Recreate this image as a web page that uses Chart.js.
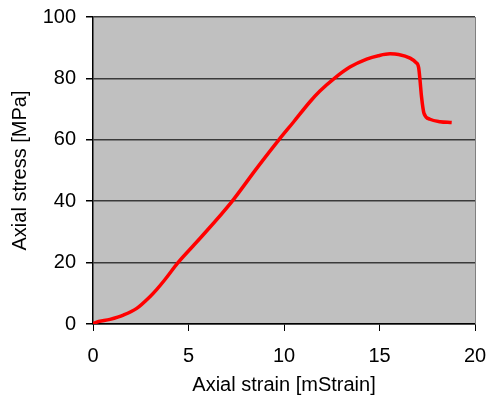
<!DOCTYPE html>
<html>
<head>
<meta charset="utf-8">
<script src="https://cdn.jsdelivr.net/npm/chart.js@4/dist/chart.umd.min.js"></script>
<style>
  html, body { margin: 0; padding: 0; background: #fff; }
  #wrap { width: 488px; height: 400px; }
</style>
</head>
<body>
<div id="wrap"><canvas id="stressChart"></canvas></div>
<script>
// strain [mStrain] and stress [MPa]
const strain = [0, 0.1, 0.89, 1.59, 2.29, 2.98, 3.33, 3.77, 4.45, 5.25, 5.69, 7.26, 8.57, 9.72, 10.5, 11.36, 11.88, 12.67, 13.45, 14.33, 14.94, 15.55, 16.0, 16.6, 16.9, 17.05, 17.12, 17.2, 17.33, 17.64, 18.17, 18.78];
const stress = [0, 0.4, 1.5, 2.9, 5.1, 8.9, 11.2, 14.5, 20.0, 25.5, 28.5, 39.8, 50.7, 59.9, 65.8, 72.4, 75.9, 80.2, 83.7, 86.3, 87.4, 88.0, 87.8, 86.6, 85.2, 83.5, 79.5, 74.0, 68.6, 66.7, 65.9, 65.6];
const xTicks = [0, 5, 10, 15, 20];
const yTicks = [0, 20, 40, 60, 80, 100];

const points = strain.map((s, i) => ({ x: s, y: stress[i] }));
const FONT = 'Liberation Sans, Arial, sans-serif';

const plotBg = {
	id: 'plotBg',
	beforeDraw(chart) {
		const { ctx, chartArea: a } = chart;
		ctx.save();
		ctx.fillStyle = '#c0c0c0';
		ctx.fillRect(a.left, a.top, a.right - a.left, a.bottom - a.top);
		ctx.restore();
	},
	afterDatasetsDraw(chart) {
		const { ctx, chartArea: a } = chart;
		ctx.save();
		ctx.strokeStyle = '#808080';
		ctx.lineWidth = 1;
		ctx.beginPath();
		ctx.moveTo(a.right + 0.5, a.top);
		ctx.lineTo(a.right + 0.5, a.bottom);
		ctx.stroke();
		ctx.restore();
	}
};

new Chart(document.getElementById('stressChart'), {
	type: 'scatter',
	data: {
		datasets: [
			{
				data: points,
				showLine: true,
				borderColor: '#ff0000',
				borderWidth: 3.5,
				pointRadius: 0,
				cubicInterpolationMode: 'monotone',
				fill: false,
			},
		],
	},
	options: {
		responsive: true,
		maintainAspectRatio: false,
		animation: false,
		layout: { padding: { top: 17, right: 13, left: 0, bottom: 0 } },
		plugins: {
			legend: { display: false },
			tooltip: { enabled: false },
		},
		scales: {
			x: {
				type: 'linear',
				min: 0,
				max: 20,
				afterBuildTicks: (axis) => {
					axis.ticks = xTicks.map((v) => ({ value: v }));
				},
				afterFit: (axis) => {
					axis.height = 76;
					axis.paddingLeft = 0;
					axis.paddingRight = 0;
				},
				grid: {
					drawOnChartArea: false,
					drawTicks: true,
					tickLength: 7,
					tickColor: '#000',
				},
				border: { color: '#000', width: 1.5 },
				ticks: {
					color: '#000',
					padding: 13,
					maxRotation: 0,
					font: { family: FONT, size: 20 },
				},
				title: {
					display: true,
					text: 'Axial strain [mStrain]',
					color: '#000',
					padding: { top: 0, bottom: 3 },
					font: { family: FONT, size: 20 },
				},
			},
			y: {
				type: 'linear',
				min: 0,
				max: 100,
				afterBuildTicks: (axis) => {
					axis.ticks = yTicks.map((v) => ({ value: v }));
				},
				afterFit: (axis) => {
					axis.width = 93;
					axis.paddingTop = 0;
					axis.paddingBottom = 0;
				},
				grid: {
					color: '#3a3a3a',
					lineWidth: 1.5,
					tickLength: 7,
					tickColor: '#000',
				},
				border: { color: '#000', width: 1.5 },
				ticks: {
					color: '#000',
					padding: 10,
					font: { family: FONT, size: 20 },
				},
				title: {
					display: true,
					text: 'Axial stress [MPa]',
					color: '#000',
					padding: { top: 8, bottom: 0 },
					font: { family: FONT, size: 20 },
				},
			},
		},
	},
	plugins: [plotBg],
});
</script>
</body>
</html>
